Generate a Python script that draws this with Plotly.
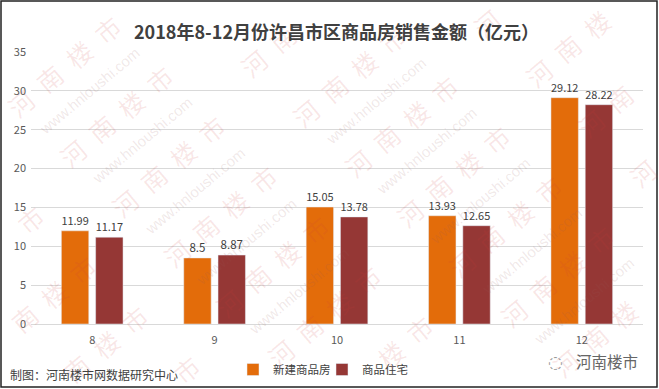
import math
import plotly.graph_objects as go

months = ["8", "9", "10", "11", "12"]
new_homes = [11.99, 8.5, 15.05, 13.93, 29.12]
residential = [11.17, 8.87, 13.78, 12.65, 28.22]
new_labels = ["11.99", "8.5", "15.05", "13.93", "29.12"]
res_labels = ["11.17", "8.87", "13.78", "12.65", "28.22"]
y_ticks = [0, 5, 10, 15, 20, 25, 30, 35]
mark_chars = ["河", "南", "楼", "市"]

W, H = 659, 389
L, R, T, B = 31, 643, 52, 324
FONT = "Noto Sans CJK SC"

fig = go.Figure()
fig.add_bar(x=months, y=new_homes, name="新建商品房", marker_color="#E36C0A",
            text=new_labels, textposition="outside", cliponaxis=False,
            textfont=dict(size=11.5, color="#404040"))
fig.add_bar(x=months, y=residential, name="商品住宅", marker_color="#953735",
            text=res_labels, textposition="outside", cliponaxis=False,
            textfont=dict(size=11.5, color="#404040"))


def txt(x, y, text, xanchor="center", **kw):
    return dict(x=x / W, y=1 - y / H, xref="paper", yref="paper", showarrow=False, text=text,
                xanchor=xanchor, yanchor="middle", **kw)


ann = []
ANG = -40
ca, sa = math.cos(math.radians(ANG)), math.sin(math.radians(ANG))
for r in range(-12, 20):
    for c in range(-3, 6):
        x0 = 64 + c * 233 + r * 26
        y0 = 66 - c * 40 + r * 25
        if r % 2 == 0:
            for i, ch in enumerate(mark_chars):
                d = (i - 1.5) * 38
                px, py = x0 + d * ca, y0 + d * sa
                if 14 < px < W - 14 and 14 < py < H - 14:
                    ann.append(txt(px, py, ch, textangle=ANG,
                                   font=dict(family=FONT, size=25, color="rgba(205,60,60,0.12)")))
        else:
            if 65 < x0 < W - 65 and 55 < y0 < H - 55:
                ann.append(txt(x0, y0, "www.hnloushi.com", textangle=ANG,
                               font=dict(family="Liberation Sans", size=15, color="rgba(150,90,90,0.14)")))

ann += [
    txt(336, 31, "<b>2018年8-12月份许昌市区商品房销售金额（亿元）</b>",
        font=dict(family=FONT, size=18, color="#404040")),
    txt(8, 374, "制图：河南楼市网数据研究中心", xanchor="left",
        font=dict(family=FONT, size=12, color="#404040")),
    txt(607, 361, "河南楼市", font=dict(family=FONT, size=15.5, color="#666666")),
    txt(555, 362, "◌", font=dict(family="DejaVu Sans", size=17, color="#999999")),
]

fig.update_layout(
    width=W, height=H, margin=dict(l=0, r=0, t=0, b=0, autoexpand=False),
    paper_bgcolor="white", plot_bgcolor="rgba(0,0,0,0)",
    font=dict(family=FONT, color="#595959", size=11),
    barmode="group", bargap=0.44, bargroupgap=0.2,
    showlegend=True,
    legend=dict(orientation="h", x=233 / W, xanchor="left", y=1 - 355 / H, yanchor="top",
                font=dict(family=FONT, size=11.5, color="#404040"),
                bgcolor="rgba(0,0,0,0)", itemwidth=30, traceorder="normal",
                entrywidth=44, entrywidthmode="pixels"),
    annotations=ann,
    shapes=[dict(type="rect", xref="paper", yref="paper", x0=1 / W, x1=657 / W, y0=1 - 387 / H, y1=1 - 1 / H,
                 line=dict(color="#222222", width=1.5), layer="above")],
    xaxis=dict(domain=[L / W, R / W], type="category", showgrid=False, ticks="",
               showline=True, linecolor="#D9D9D9", linewidth=1, ticklabelstandoff=6,
               tickfont=dict(size=11, color="#595959")),
    yaxis=dict(domain=[1 - B / H, 1 - T / H], range=[0, 35], tickvals=y_ticks,
               showgrid=True, gridcolor="#D9D9D9", gridwidth=1, zeroline=False,
               ticks="", ticklabelstandoff=4, tickfont=dict(size=11, color="#595959")),
)
fig.write_html("out.html", config=dict(displayModeBar=False),
               post_script="document.body.style.margin='0';")
